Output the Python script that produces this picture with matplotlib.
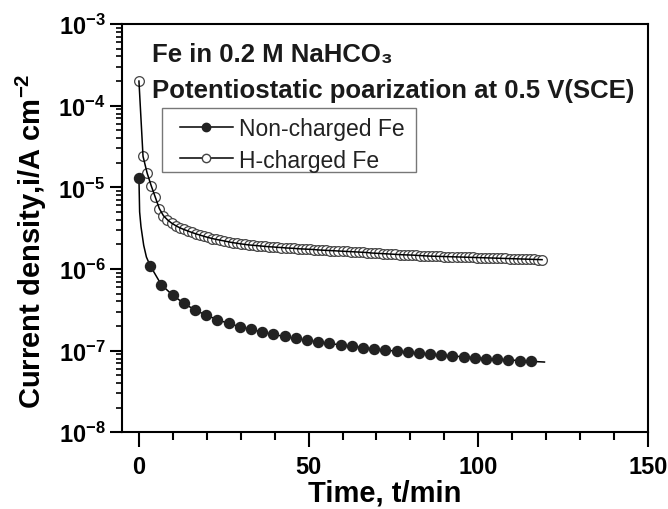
import math
import matplotlib
matplotlib.use("Agg")
import matplotlib.pyplot as plt
from matplotlib.lines import Line2D
from matplotlib.patches import Rectangle
from matplotlib.ticker import FixedLocator, MultipleLocator, LogLocator, FuncFormatter, NullFormatter

plt.rcParams['font.family'] = ['Liberation Sans', 'DejaVu Sans']
plt.rcParams['mathtext.fontset'] = 'custom'
plt.rcParams['mathtext.rm'] = 'Liberation Sans'
plt.rcParams['mathtext.bf'] = 'Liberation Sans:bold'

# Non-charged Fe (current in 1e-7 A/cm2)
nc_time = [0.0, 0.2, 0.6, 1.4, 2.2, 3.3, 6.6, 9.9, 13.2, 16.5,
           19.8, 23.1, 26.4, 29.7, 33.0, 36.3, 39.6, 42.9, 46.2, 49.5,
           52.8, 56.1, 59.4, 62.7, 66.0, 69.3, 72.6, 75.9, 79.2, 82.5,
           85.8, 89.1, 92.4, 95.7, 99.0, 102.3, 105.6, 108.9, 112.2, 115.5,
           119.5]
nc_current = [130, 50, 33, 19.5, 14, 11.0, 6.4, 4.8, 3.8, 3.15,
              2.72, 2.40, 2.15, 1.97, 1.82, 1.69, 1.58, 1.49, 1.41, 1.34,
              1.28, 1.225, 1.175, 1.13, 1.09, 1.05, 1.015, 0.985, 0.955, 0.93,
              0.905, 0.88, 0.86, 0.84, 0.82, 0.80, 0.785, 0.77, 0.755, 0.74,
              0.725]
nc_marks = [0] + list(range(5, 40))

# H-charged Fe (current in 1e-6 A/cm2)
h_time = [0.0, 1.2, 2.4, 3.6, 4.8, 6.0, 7.2, 8.4, 9.6, 10.8,
          12.0, 13.2, 14.4, 15.6, 16.8, 18.0, 19.2, 20.4, 21.6, 22.8,
          24.0, 25.2, 26.4, 27.6, 28.8, 30.0, 31.2, 32.4, 33.6, 34.8,
          36.0, 37.2, 38.4, 39.6, 40.8, 42.0, 43.2, 44.4, 45.6, 46.8,
          48.0, 49.2, 50.4, 51.6, 52.8, 54.0, 55.2, 56.4, 57.6, 58.8,
          60.0, 61.2, 62.4, 63.6, 64.8, 66.0, 67.2, 68.4, 69.6, 70.8,
          72.0, 73.2, 74.4, 75.6, 76.8, 78.0, 79.2, 80.4, 81.6, 82.8,
          84.0, 85.2, 86.4, 87.6, 88.8, 90.0, 91.2, 92.4, 93.6, 94.8,
          96.0, 97.2, 98.4, 99.6, 100.8, 102.0, 103.2, 104.4, 105.6, 106.8,
          108.0, 109.2, 110.4, 111.6, 112.8, 114.0, 115.2, 116.4, 117.6, 118.8]
h_current = [200, 24, 15, 10.5, 7.6, 5.5, 4.5, 4.0, 3.65, 3.4,
             3.2, 3.05, 2.92, 2.80, 2.69, 2.60, 2.51, 2.43, 2.36, 2.30,
             2.25, 2.20, 2.15, 2.10, 2.07, 2.03, 2.00, 1.97, 1.95, 1.93,
             1.91, 1.89, 1.87, 1.86, 1.84, 1.83, 1.81, 1.80, 1.79, 1.77,
             1.76, 1.75, 1.74, 1.73, 1.71, 1.70, 1.69, 1.68, 1.67, 1.66,
             1.65, 1.64, 1.63, 1.62, 1.61, 1.60, 1.59, 1.57, 1.56, 1.55,
             1.54, 1.53, 1.52, 1.51, 1.50, 1.49, 1.485, 1.48, 1.47, 1.46,
             1.45, 1.44, 1.435, 1.43, 1.425, 1.42, 1.415, 1.41, 1.405, 1.40,
             1.395, 1.39, 1.385, 1.38, 1.375, 1.37, 1.365, 1.36, 1.355, 1.35,
             1.345, 1.34, 1.335, 1.33, 1.325, 1.32, 1.315, 1.31, 1.305, 1.30]

x_ticks = [0, 50, 100, 150]
labels = ['Non-charged Fe', 'H-charged Fe']
notes = ['Fe in 0.2 M NaHCO₃',
         'Potentiostatic poarization at 0.5 V(SCE)']

nc_y = [v * 1e-7 for v in nc_current]
h_y = [v * 1e-6 for v in h_current]

fig = plt.figure(figsize=(6.68, 5.10), dpi=100)
ax = fig.add_axes([0.1826, 0.1504, 0.7874, 0.8006])

# open circles first, then the line on top of them
ax.plot(h_time, h_y, ls='none', marker='o', ms=7.0, mfc='white',
        mec='#444444', mew=0.9, zorder=2)
ax.plot(h_time, h_y, color='black', lw=1.1, zorder=3)
ax.plot(nc_time, nc_y, color='black', lw=1.1, marker='o', ms=7.2,
        mfc='#222222', mec='#222222', markevery=nc_marks, zorder=4)

ax.set_yscale('log')
ax.set_ylim(1e-8, 1e-3)
ax.set_xlim(-5, 150)

ax.xaxis.set_major_locator(FixedLocator(x_ticks))
ax.xaxis.set_minor_locator(MultipleLocator(10))
ax.yaxis.set_major_locator(LogLocator(base=10, numticks=10))
ax.yaxis.set_minor_locator(LogLocator(base=10, subs=range(2, 10), numticks=20))
ax.yaxis.set_minor_formatter(NullFormatter())


def log_label(v, pos):
    return '$\\mathbf{10^{%d}}$' % int(round(math.log10(v)))


ax.yaxis.set_major_formatter(FuncFormatter(log_label))

for s in ax.spines.values():
    s.set_linewidth(1.5)

ax.tick_params(axis='x', which='major', direction='out', length=10.5, width=1.5,
               labelsize=17, pad=6, top=False)
ax.tick_params(axis='x', which='minor', direction='out', length=5.5, width=1.5, top=False)
ax.tick_params(axis='y', which='major', direction='out', length=9, width=1.5,
               labelsize=17, pad=3, right=False)
ax.tick_params(axis='y', which='minor', direction='out', length=4.5, width=1.2, right=False)
for lab in ax.get_xticklabels():
    lab.set_fontweight('bold')

ax.set_xlabel('Time, t/min', fontsize=21, fontweight='bold', labelpad=0)
ax.set_ylabel('Current density,i/A cm$^{\\mathbf{-2}}$', fontsize=21, fontweight='bold')
ax.yaxis.set_label_coords(-0.138, 0.471)

ax.text(0.057, 0.909, notes[0], transform=ax.transAxes, fontsize=18.5,
        fontweight='bold', va='baseline', color='#1a1a1a')
ax.text(0.057, 0.821, notes[1], transform=ax.transAxes, fontsize=18.5,
        fontweight='bold', va='baseline', color='#1a1a1a')

handles = [
    Line2D([], [], color='black', lw=1.1, marker='o', ms=6, mfc='#222222', mec='#222222'),
    Line2D([], [], color='black', lw=1.1, marker='o', ms=6, mfc='white', mec='#444444'),
]
leg = ax.legend(handles, labels, loc='upper left', bbox_to_anchor=(0.110, 0.771),
                borderaxespad=0, borderpad=0, fontsize=16.5, frameon=False,
                handlelength=2.3, handletextpad=0.3, labelspacing=0.35)
for t in leg.get_texts():
    t.set_color('#222222')

# legend box drawn separately (wider left padding than the legend's own frame)
ax.add_patch(Rectangle((0.076, 0.6375), 0.483, 0.1565, transform=ax.transAxes,
                       fill=False, edgecolor='#777777', lw=1.0, zorder=5))

fig.savefig('out.png', dpi=100)
